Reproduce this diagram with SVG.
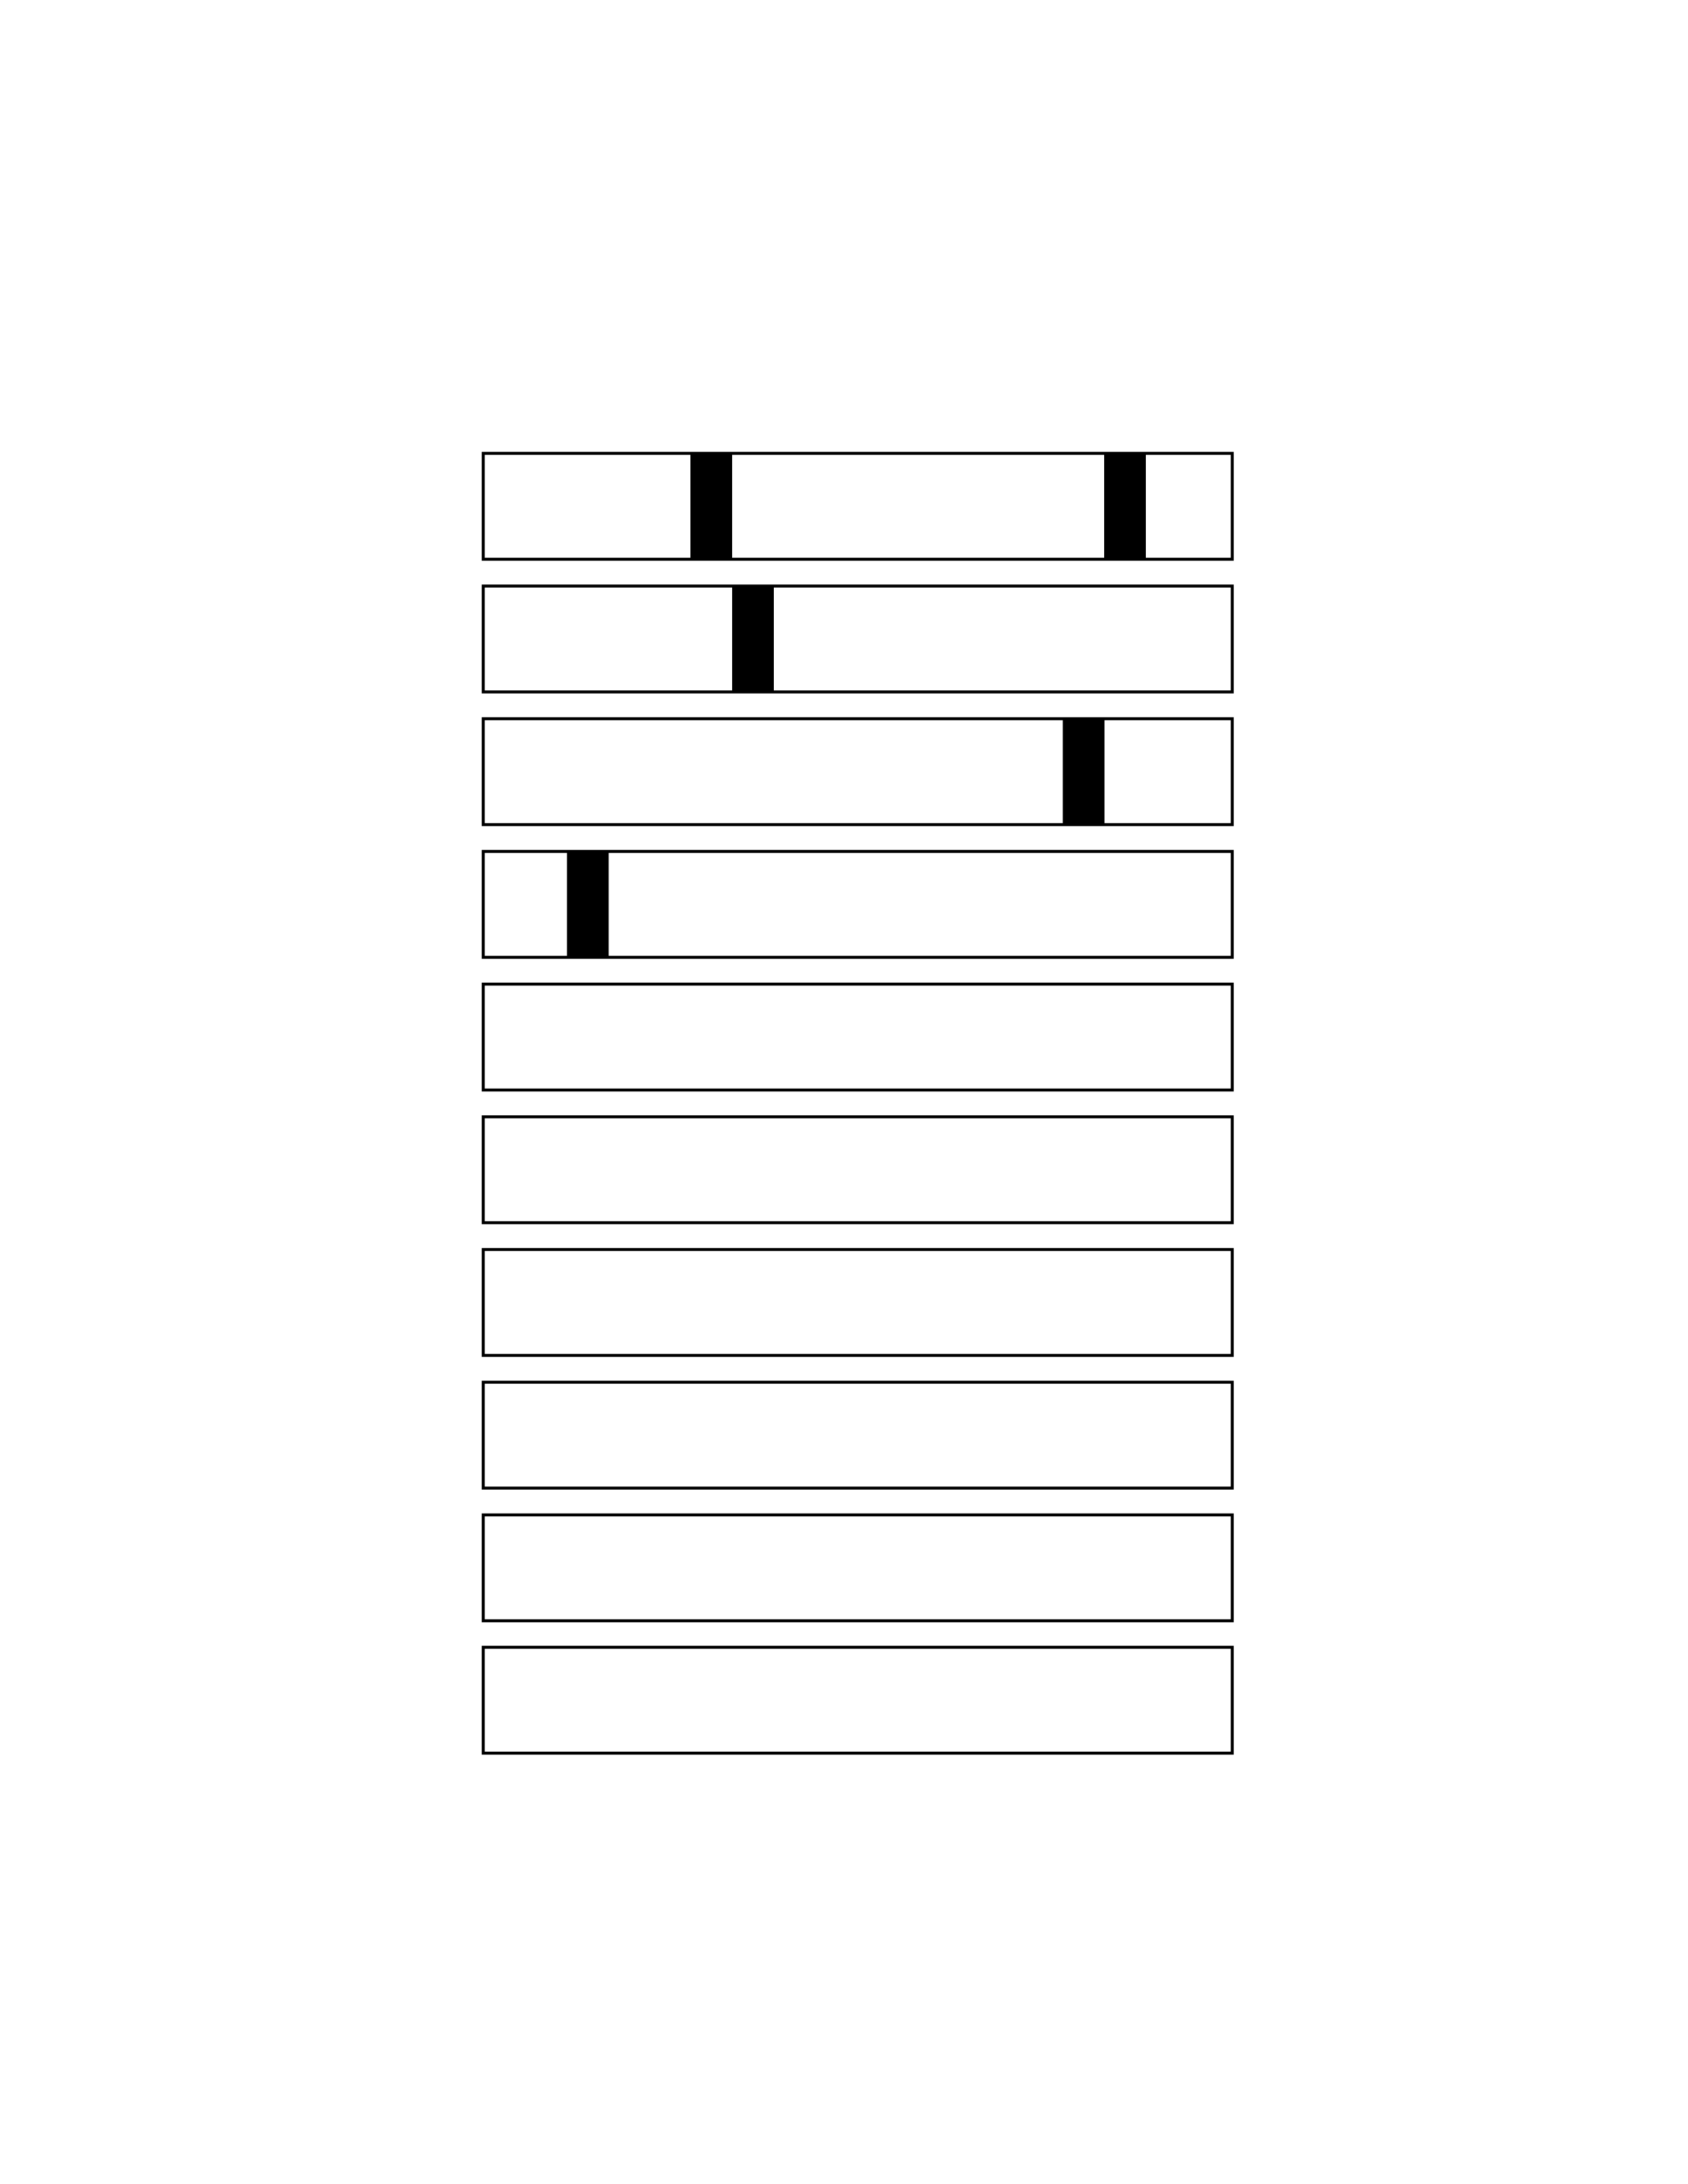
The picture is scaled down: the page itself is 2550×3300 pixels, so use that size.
<svg xmlns="http://www.w3.org/2000/svg" width="2550" height="3300" viewBox="0 0 2550 3300">
<style>
.box{fill:none;stroke:#000;stroke-width:4.5}
.bar{fill:#000}
</style>
<rect width="2550" height="3300" fill="#fff"/>
<g id="row1">
<rect class="bar" x="1043" y="685" width="63" height="160"/>
<rect class="bar" x="1668" y="685" width="63" height="160"/>
<rect class="box" x="730" y="685" width="1131.5" height="160"/>
</g>
<g id="row2">
<rect class="bar" x="1106" y="885.5" width="63" height="160"/>
<rect class="box" x="730" y="885.5" width="1131.5" height="160"/>
</g>
<g id="row3">
<rect class="bar" x="1605.5" y="1086" width="63" height="160"/>
<rect class="box" x="730" y="1086" width="1131.5" height="160"/>
</g>
<g id="row4">
<rect class="bar" x="856.5" y="1286.5" width="63" height="160"/>
<rect class="box" x="730" y="1286.5" width="1131.5" height="160"/>
</g>
<g id="row5"><rect class="box" x="730" y="1487" width="1131.5" height="160"/></g>
<g id="row6"><rect class="box" x="730" y="1687.5" width="1131.5" height="160"/></g>
<g id="row7"><rect class="box" x="730" y="1888" width="1131.5" height="160"/></g>
<g id="row8"><rect class="box" x="730" y="2088.5" width="1131.5" height="160"/></g>
<g id="row9"><rect class="box" x="730" y="2289" width="1131.5" height="160"/></g>
<g id="row10"><rect class="box" x="730" y="2489" width="1131.5" height="160"/></g>
<g id="connectors"></g>
</svg>
